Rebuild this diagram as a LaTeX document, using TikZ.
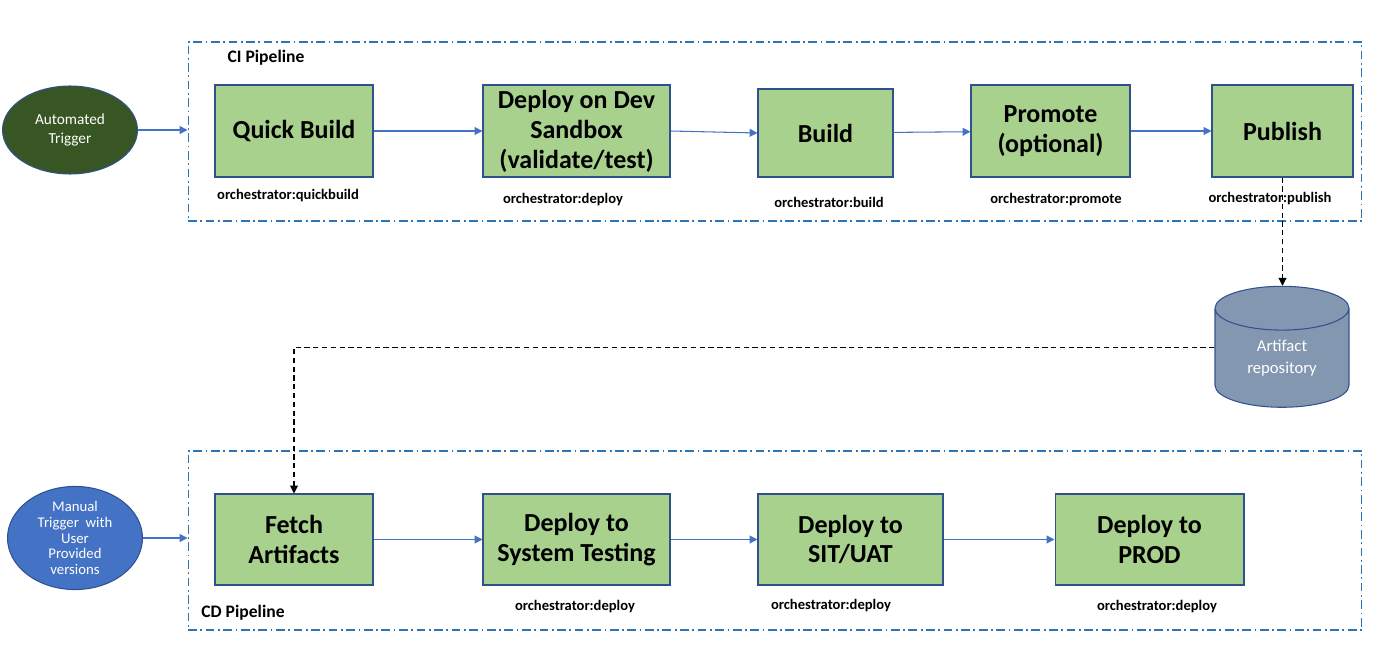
\documentclass[tikz,border=0pt]{standalone}
\usepackage{fontspec}
\setmainfont{Carlito}
\usetikzlibrary{shapes.geometric,arrows.meta}
\definecolor{stagefill}{HTML}{A9D18E}
\definecolor{stageline}{HTML}{2F528F}
\definecolor{flowblue}{HTML}{4472C4}
\definecolor{pipeblue}{HTML}{2E75B6}
\definecolor{autogreen}{HTML}{375623}
\definecolor{repogray}{HTML}{8497B0}
\begin{document}
\begin{tikzpicture}[x=0.02cm, y=-0.02cm,
    stage/.style={rectangle, draw=stageline, line width=0.6pt, fill=stagefill, align=center,
      inner sep=0pt, font=\fontsize{14.8}{17}\selectfont\bfseries},
    tag/.style={font=\fontsize{8.3}{10}\selectfont\bfseries},
    trigger/.style={ellipse, draw=stageline, line width=0.6pt, text=white, align=center,
      inner sep=0pt, minimum width=2.7cm, minimum height=1.76cm},
    flow/.style={flowblue, line width=0.6pt, -{Triangle[length=4.5pt,width=4.5pt]}},
    fetchline/.style={black, line width=0.6pt, dash pattern=on 3pt off 2pt, -{Triangle[length=4.5pt,width=4.5pt]}},
    pipe/.style={draw=pipeblue, line width=0.6pt, dash pattern=on 5pt off 2pt on 1pt off 2pt, inner sep=0pt}]
  \useasboundingbox (0, 0) rectangle (1380, 649);
  % pipeline frames
  \node[pipe, minimum width=23.48cm, minimum height=3.58cm] (ci) at (775, 131.5) {};
  \node[pipe, minimum width=23.48cm, minimum height=3.58cm] (cd) at (775, 540.5) {};
  \node[font=\fontsize{10}{12}\selectfont\bfseries] (cilbl) at (266, 58) {CI Pipeline};
  \node[font=\fontsize{10}{12}\selectfont\bfseries] (cdlbl) at (243, 613) {CD Pipeline};

  % CI stages
  \node[stage, minimum width=3.16cm, minimum height=1.84cm] (quick) at (294, 131) {Quick Build};
  \node[stage, minimum width=3.74cm, minimum height=1.84cm] (devsb) at (576.5, 131) {Deploy on Dev\\Sandbox\\(validate/test)};
  \node[stage, minimum width=2.7cm, minimum height=1.76cm] (build) at (825.5, 133) {Build};
  \node[stage, minimum width=3.18cm, minimum height=1.84cm] (promote) at (1050.5, 131) {Promote\\(optional)};
  \node[stage, minimum width=2.82cm, minimum height=1.84cm] (publish) at (1282.5, 131) {Publish};
  \node[tag] (quicktag) at (288, 196) {orchestrator:quickbuild};
  \node[tag] (devsbtag) at (563, 200) {orchestrator:deploy};
  \node[tag] (buildtag) at (829, 202) {orchestrator:build};
  \node[tag] (promotetag) at (1056, 200) {orchestrator:promote};
  \node[tag] (publishtag) at (1270, 199) {orchestrator:publish};

  % CD stages
  \node[stage, minimum width=3.16cm, minimum height=1.82cm] (fetch) at (294, 539.5) {Fetch\\Artifacts};
  \node[stage, minimum width=3.74cm, minimum height=1.82cm] (systest) at (576.5, 539.5) {Deploy to\\System Testing};
  \node[stage, minimum width=3.7cm, minimum height=1.82cm] (situat) at (850.5, 539.5) {Deploy to\\SIT/UAT};
  \node[stage, minimum width=3.78cm, minimum height=1.82cm] (prod) at (1149.5, 539.5) {Deploy to\\PROD};
  \node[tag] (systesttag) at (575, 607) {orchestrator:deploy};
  \node[tag] (situattag) at (831, 606) {orchestrator:deploy};
  \node[tag] (prodtag) at (1157, 607) {orchestrator:deploy};

  % triggers and repository
  \node[trigger, fill=autogreen, font=\fontsize{8.7}{11.3}\selectfont] (auto) at (70, 130) {Automated\\Trigger};
  \node[trigger, fill=flowblue, font=\fontsize{8.4}{8.9}\selectfont] (manual) at (75, 538) {Manual\\Trigger~ with\\User\\Provided\\versions};
  \node[cylinder, shape border rotate=90, aspect=0.63, draw=stageline, line width=0.6pt, fill=repogray,
    text=white, align=center, minimum width=2.68cm, minimum height=2.42cm, inner sep=0pt,
    font=\fontsize{9.5}{12.5}\selectfont] (repo) at (1282, 358) {Artifact\\repository};

  % connectors
  \draw[flow] (auto.east) -- (auto.east -| ci.west);
  \draw[flow] (manual.east) -- (manual.east -| cd.west);
  \draw[flow] (quick) -- (devsb);
  \draw[flow] (devsb.east) -- (build.west);
  \draw[flow] (build) -- (promote);
  \draw[flow] (promote) -- (publish);
  \draw[flow] (fetch) -- (systest);
  \draw[flow] (systest.east) -- (situat.west);
  \draw[flow] (situat) -- (prod);
  \draw[fetchline] (publish.south) -- (publish.south |- repo.north);
  \draw[fetchline] ([yshift=6.2pt]repo.west) -| (fetch.north);
\end{tikzpicture}
\end{document}
